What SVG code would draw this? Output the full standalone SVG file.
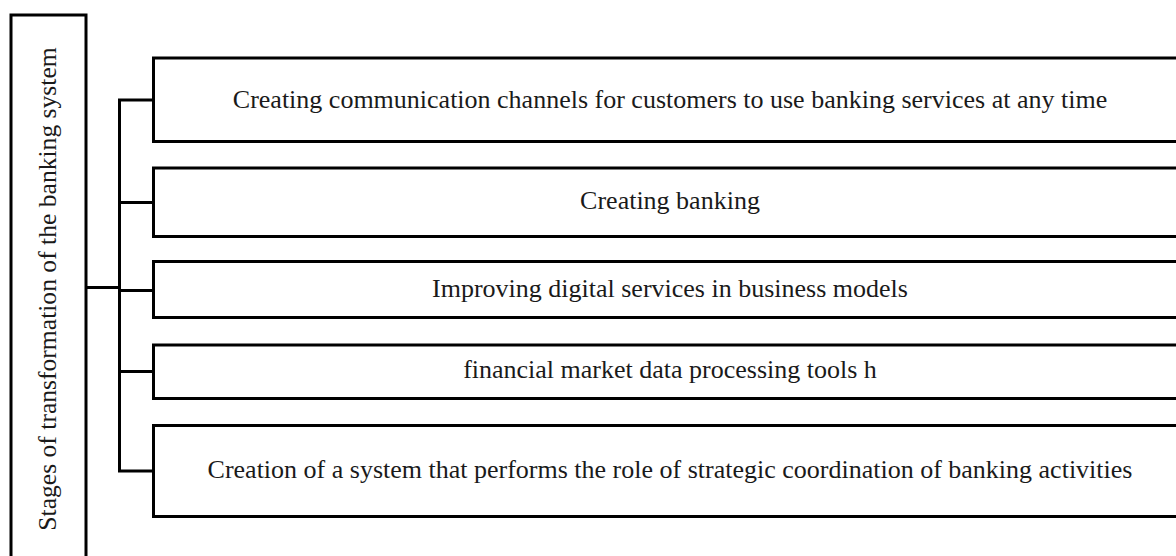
<svg xmlns="http://www.w3.org/2000/svg" width="1176" height="556" viewBox="0 0 1176 556">
<style>
.box{fill:#fff;stroke:#000;stroke-width:3}
.ln{fill:none;stroke:#000;stroke-width:3}
.t{font-family:"Liberation Serif","Times New Roman",serif;font-size:26px;fill:#1a1a1a;text-anchor:middle}
</style>
<rect width="1176" height="556" fill="#fff"/>
<g id="connectors">
<path class="ln" d="M86 287.5H119.5M119.5 100V471M118 100H153.5M118 202.5H153.5M118 290.5H153.5M118 371.5H153.5M118 471H153.5"/>
</g>
<g id="root">
<rect class="box" x="11" y="15" width="75" height="560"/>
<text class="t" style="font-size:25.6px" transform="translate(56 289) rotate(-90)" x="0" y="0">Stages of transformation of the banking system</text>
</g>
<g id="n1">
<rect class="box" x="153.5" y="58" width="1040" height="83.5"/>
<text class="t" x="670" y="108">Creating communication channels for customers to use banking services at any time</text>
</g>
<g id="n2">
<rect class="box" x="153.5" y="168" width="1040" height="68.5"/>
<text class="t" x="670" y="208.5">Creating banking</text>
</g>
<g id="n3">
<rect class="box" x="153.5" y="261.5" width="1040" height="56"/>
<text class="t" x="670" y="297">Improving digital services in business models</text>
</g>
<g id="n4">
<rect class="box" x="153.5" y="345" width="1040" height="53.5"/>
<text class="t" x="670" y="377.5">financial market data processing tools h</text>
</g>
<g id="n5">
<rect class="box" x="153.5" y="425.5" width="1040" height="91"/>
<text class="t" x="670" y="478">Creation of a system that performs the role of strategic coordination of banking activities</text>
</g>
</svg>
